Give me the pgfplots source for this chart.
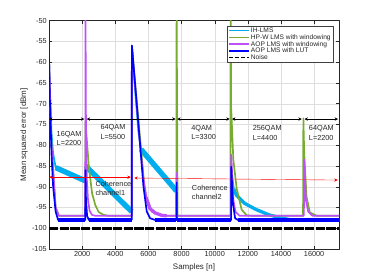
\documentclass[border=0pt]{standalone}
\usepackage{pgfplots}
\pgfplotsset{compat=1.18}
\usetikzlibrary{arrows.meta}
\usepackage{fontspec}
\setmainfont{Liberation Sans}
\definecolor{mgreen}{RGB}{119,172,48}
\definecolor{mpurple}{RGB}{190,80,250}
\definecolor{mgray}{RGB}{38,38,38}
\begin{document}
\begin{tikzpicture}
\path[use as bounding box] (0,0) rectangle (561bp,420bp);
\begin{axis}[
 at={(73.5bp,46.5bp)}, anchor=south west,
 scale only axis, width=435bp, height=342.5bp,
 xmin=0, xmax=17500, ymin=-105, ymax=-50,
 xtick={2000,4000,...,16000}, ytick={-105,-100,...,-50},
 scaled ticks=false,
 /pgf/number format/1000 sep={},
 /pgf/number format/assume math mode=true,
 tick label style={font=\fontsize{11}{13}\selectfont, text=mgray},
 axis line style={mgray, line width=0.6bp},
 tick style={mgray, line width=0.6bp},
 tick align=inside, major tick length=5bp,
 grid=major, grid style={black!13, line width=0.5bp},
 xlabel={Samples [n]}, ylabel={Mean squared error [dBm]},
 label style={font=\fontsize{12}{14}\selectfont, text=mgray},
 xlabel style={at={(axis description cs:0.5,-0.0818)}, anchor=center},
 ylabel style={at={(axis description cs:-0.0862,0.5)}, anchor=center},
 legend style={at={(rel axis cs:0.980,0.977)}, anchor=north east,
   draw=black!75, line width=0.6bp, font=\fontsize{10}{12}\selectfont,
   inner xsep=2bp, inner ysep=1bp, row sep=-1.5bp,
   nodes={inner sep=1.5bp, text=mgray}},
 legend cell align=left,
 legend image code/.code={\draw[#1] (0bp,0bp) -- (30bp,0bp);},
 line join=round,
]
\addlegendimage{cyan, line width=2bp}
\addlegendentry{IH-LMS}
\addlegendimage{mgreen, line width=2bp}
\addlegendentry{HP-W LMS with windowing}
\addlegendimage{mpurple, line width=2bp}
\addlegendentry{AOP LMS with windowing}
\addlegendimage{blue, line width=2bp}
\addlegendentry{AOP LMS with LUT}
\addlegendimage{black, line width=2bp, dash pattern=on 5bp off 4bp}
\addlegendentry{Noise}

% ---- IH-LMS (cyan)
\addplot[cyan, line width=2.5bp, forget plot] coordinates {
 (0,-59) (60,-68) (150,-77) (250,-82) (400,-85.3) (2200,-88.6)
 (2210,-85) (5000,-96) (5000,-56) (5200,-67) (5400,-77) (5550,-81)
 (7700,-91) (7720,-98) (10990,-98) (11000,-86) (11150,-90.5) (11300,-92)
 (11800,-94) (12500,-95.5) (13300,-96.8) (14000,-97.5) (14600,-98) (17500,-98)};
\addplot[cyan, line width=8bp, line cap=butt, forget plot] coordinates {(400,-85.4) (2200,-88.6)};
\addplot[cyan, line width=8bp, line cap=butt, forget plot] coordinates {(2210,-85) (4990,-96)};
\addplot[cyan, line width=8bp, line cap=butt, forget plot] coordinates {(5550,-81) (7690,-91)};
\addplot[cyan, line width=5bp, line cap=butt, forget plot] coordinates {
 (11150,-90.5) (11300,-92) (11800,-94) (12500,-95.5) (13300,-96.8) (14000,-97.5) (14600,-98)};

% ---- HP-W LMS (green)
\addplot[mgreen, line width=2.5bp, forget plot] coordinates {
 (0,-59) (150,-80) (400,-95) (600,-97) (2190,-97)
 (2200,-74.3) (2400,-85) (2600,-91.6) (2800,-94.5) (3000,-96.1) (3300,-96.8) (3600,-97) (5000,-97)
 (5000,-56) (5800,-92) (6200,-96) (7000,-97) (7690,-97)
 (7700,-45) (7760,-97) (10950,-97) (10960,-45) (10990,-70.7)
 (11124,-83.5) (11325,-90.4) (11625,-95.5) (11930,-96.9) (12300,-97)
 (15330,-97) (15350,-73.5) (15400,-81.9) (15540,-92.4) (15740,-96.2) (16140,-97) (17500,-97)};

% ---- AOP LMS with windowing (purple)
\addplot[mpurple, line width=2.5bp, forget plot] coordinates {
 (0,-59) (150,-80) (400,-95) (600,-97) (2190,-97)
 (2200,-45) (2230,-75) (2280,-88) (2350,-93) (2450,-95.8) (2600,-96.8) (2800,-97) (4990,-97)
 (5000,-56) (5200,-66) (5500,-80.3) (5700,-88) (5900,-93) (6100,-95.3) (6400,-96.3) (6800,-96.9) (7100,-97) (7690,-97)
 (7700,-86.7) (7720,-97) (10990,-97)
 (11000,-82.3) (11124,-93.2) (11250,-96) (11500,-97) (15380,-97)
 (15400,-83.5) (15500,-93.2) (15640,-96) (15900,-97) (17500,-97)};
\addplot[mpurple, line width=5bp, line cap=butt, forget plot] coordinates {
 (5850,-92.5) (6100,-95.3) (6400,-96.3) (6800,-96.9) (7100,-97)};

% ---- AOP LMS with LUT (blue)
\addplot[blue, line width=2.5bp, forget plot] coordinates {
 (0,-59) (60,-70) (150,-82) (250,-90) (400,-96) (550,-98) (2190,-98)
 (2200,-86) (2230,-93) (2300,-97) (2400,-98) (4990,-98)
 (5000,-56) (5200,-65.5) (5500,-80) (5700,-90) (5900,-96) (6100,-97.6) (6400,-98) (7690,-98)
 (7700,-89) (7715,-98) (10990,-98)
 (11000,-85.2) (11100,-94) (11230,-97.6) (11400,-98) (17500,-98)};
\addplot[blue, line width=7bp, line cap=butt, forget plot] coordinates {(550,-98) (2190,-98)};
\addplot[blue, line width=7bp, line cap=butt, forget plot] coordinates {(2400,-98) (4990,-98)};
\addplot[blue, line width=7bp, line cap=butt, forget plot] coordinates {(6400,-98) (7690,-98)};
\addplot[blue, line width=7bp, line cap=butt, forget plot] coordinates {(7720,-98) (10990,-98)};
\addplot[blue, line width=7bp, line cap=butt, forget plot] coordinates {(11400,-98) (17500,-98)};

% ---- Noise
\addplot[black, line width=4bp, dash pattern=on 14bp off 2bp, forget plot] coordinates {(0,-100) (17500,-100)};

% ---- annotations
\addplot[black, line width=0.6bp, {Stealth[length=5bp,width=5bp]}-{Stealth[length=5bp,width=5bp]}, forget plot] coordinates {(0,-73.7) (2130,-73.7)};
\addplot[black, line width=0.6bp, {Stealth[length=5bp,width=5bp]}-{Stealth[length=5bp,width=5bp]}, forget plot] coordinates {(2280,-73.7) (7640,-73.7)};
\addplot[black, line width=0.6bp, {Stealth[length=5bp,width=5bp]}-{Stealth[length=5bp,width=5bp]}, forget plot] coordinates {(7740,-73.7) (10900,-73.7)};
\addplot[black, line width=0.6bp, {Stealth[length=5bp,width=5bp]}-{Stealth[length=5bp,width=5bp]}, forget plot] coordinates {(11050,-73.7) (15250,-73.7)};
\addplot[black, line width=0.6bp, {Stealth[length=5bp,width=5bp]}-{Stealth[length=5bp,width=5bp]}, forget plot] coordinates {(15420,-73.7) (17440,-73.7)};
\addplot[red, line width=0.6bp, {Stealth[length=5bp,width=5bp]}-{Stealth[length=5bp,width=5bp]}, forget plot] coordinates {(20,-87.7) (4930,-87.7)};
\addplot[red, line width=0.6bp, {Stealth[length=5bp,width=5bp]}-{Stealth[length=5bp,width=5bp]}, forget plot] coordinates {(5150,-87.9) (17420,-88.4)};

\begin{scope}[every node/.style={font=\fontsize{11}{14}\selectfont, text=mgray, anchor=west, align=left, inner sep=0pt}]
\node at (axis cs:456,-78.4) {16QAM\\L=2200};
\node at (axis cs:3104,-76.8) {64QAM\\L=5500};
\node at (axis cs:8580,-77.0) {4QAM\\L=3300};
\node at (axis cs:12290,-77.05) {256QAM\\L=4400};
\node at (axis cs:15680,-77.05) {64QAM\\L=2200};
\node at (axis cs:2800,-90.4) {Coherence\\channel1};
\node at (axis cs:8620,-91.4) {Coherence\\channel2};
\end{scope}
\end{axis}
\end{tikzpicture}
\end{document}
